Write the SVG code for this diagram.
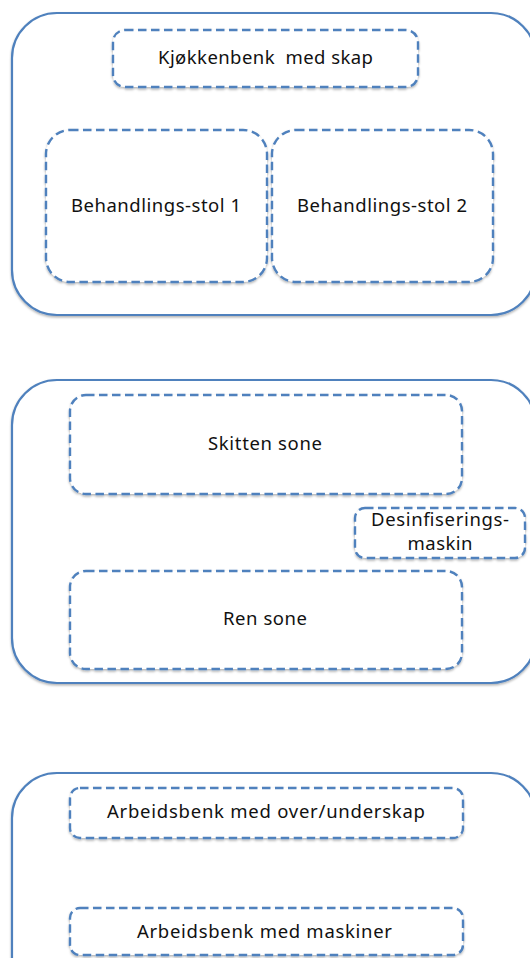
<svg xmlns="http://www.w3.org/2000/svg" width="530" height="958" viewBox="0 0 530 958">
<defs>
<filter id="sh" x="-10%" y="-10%" width="120%" height="130%">
<feDropShadow dx="0" dy="1.5" stdDeviation="1.2" flood-color="#000" flood-opacity="0.3"/>
</filter>
</defs>
<style>
.outer{fill:#fff;stroke:#4f81bd;stroke-width:2.2;filter:url(#sh)}
.box{fill:#fff;stroke:#4f81bd;stroke-width:2.4;stroke-dasharray:8.5 4.5;filter:url(#sh)}
.t{font-family:"Noto Sans","Open Sans",sans-serif;font-size:18.5px;fill:#111;text-anchor:middle}
</style>
<rect width="530" height="958" fill="#fff"/>
<g id="panel1">
<rect class="outer" x="12" y="13" width="524" height="302" rx="45" ry="45"/>
</g>
<g id="kjokkenbenk">
<rect class="box" x="113" y="30" width="305" height="57" rx="12" ry="12"/>
<text class="t" x="265.5" y="64" textLength="215">Kjøkkenbenk&#160; med skap</text>
</g>
<g id="stol1">
<rect class="box" x="46" y="130" width="221" height="152" rx="24" ry="24"/>
<text class="t" x="156" y="212" textLength="170">Behandlings-stol 1</text>
</g>
<g id="stol2">
<rect class="box" x="272" y="130" width="221" height="152" rx="24" ry="24"/>
<text class="t" x="382" y="212" textLength="170">Behandlings-stol 2</text>
</g>
<g id="panel2">
<rect class="outer" x="12" y="380" width="524" height="303" rx="45" ry="45"/>
</g>
<g id="skitten">
<rect class="box" x="70" y="395" width="392" height="99" rx="16" ry="16"/>
<text class="t" x="265" y="450" textLength="114">Skitten sone</text>
</g>
<g id="desinf">
<rect class="box" x="355" y="508" width="170" height="50" rx="10" ry="10"/>
<text class="t" x="440" y="526" textLength="138">Desinfiserings-</text>
<text class="t" x="440" y="550" textLength="65">maskin</text>
</g>
<g id="ren">
<rect class="box" x="70" y="571" width="392" height="98" rx="16" ry="16"/>
<text class="t" x="265" y="625" textLength="84">Ren sone</text>
</g>
<g id="panel3">
<rect class="outer" x="12" y="773" width="524" height="240" rx="45" ry="45"/>
</g>
<g id="arbeidsbenk1">
<rect class="box" x="70" y="788" width="393" height="50" rx="10" ry="10"/>
<text class="t" x="266" y="818" textLength="318">Arbeidsbenk med over/underskap</text>
</g>
<g id="arbeidsbenk2">
<rect class="box" x="70" y="908" width="393" height="47" rx="10" ry="10"/>
<text class="t" x="264.5" y="938" textLength="255">Arbeidsbenk med maskiner</text>
</g>
<g id="connectors"></g>
</svg>
